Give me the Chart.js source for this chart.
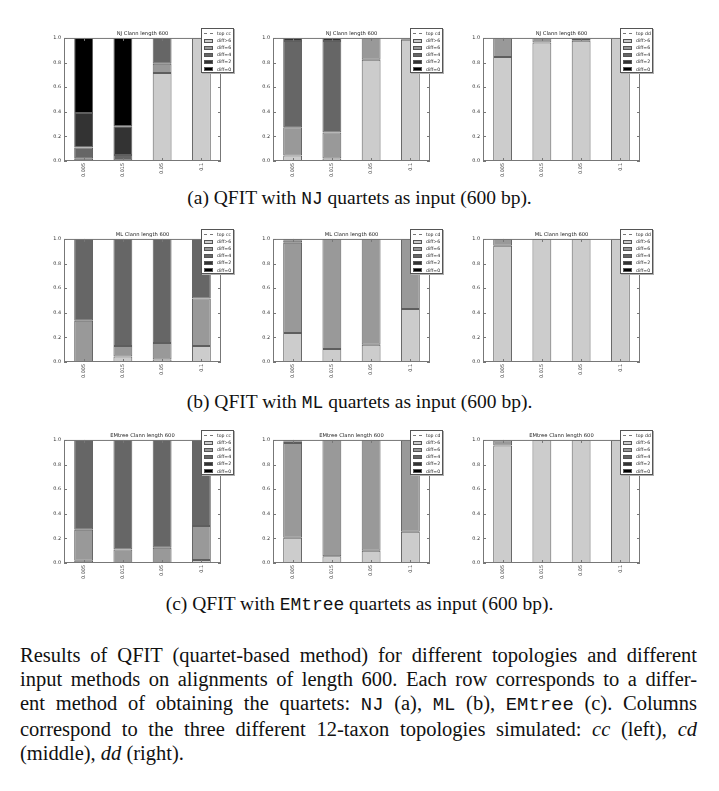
<!DOCTYPE html>
<html>
<head>
<meta charset="utf-8">
<script src="https://cdn.jsdelivr.net/npm/chart.js@4.4.1/dist/chart.umd.min.js"></script>
<style>
  body { margin: 0; background: #fff; width: 719px; height: 791px; position: relative; overflow: hidden; }
  canvas.panel { position: absolute; }
  .legend { position: absolute; width: 33px; height: 45px; box-sizing: border-box; border: 1px solid #555;
            background: #fff; box-shadow: 1px 1px 0 #b0b0b0; font: 4.6px "DejaVu Sans"; color: #222; padding: 1px 0 0 2px; }
  .legend .row { height: 7.1px; display: flex; align-items: center; white-space: nowrap; }
  .legend .sw { width: 9px; height: 4px; flex: none; box-sizing: border-box; border: 0.7px solid #555; margin-right: 4px; }
  .legend .dash { width: 9px; height: 0; flex: none; border-top: 0.8px dashed #777; margin-right: 4px; }
  .caption { position: absolute; left: 0; width: 719px; text-align: center; font: 19.5px/22px "Liberation Serif"; color: #111; }
  .tt { font-family: "Liberation Mono"; font-size: 0.92em; }
  .para { position: absolute; left: 20px; width: 677px; top: 643px; font: 20.5px/24px "Liberation Serif"; color: #111; }
  .para .l { display: block; text-align: justify; text-align-last: justify; white-space: nowrap; }
</style>
</head>
<body>
<div class="caption" style="top:187px">(a) QFIT with <span class="tt">NJ</span> quartets as input (600 bp).</div>
<div class="caption" style="top:391px">(b) QFIT with <span class="tt">ML</span> quartets as input (600 bp).</div>
<div class="caption" style="top:593px">(c) QFIT with <span class="tt">EMtree</span> quartets as input (600 bp).</div>
<div class="para">
  <span class="l">Results of QFIT (quartet-based method) for different topologies and different</span>
  <span class="l">input methods on alignments of length 600. Each row corresponds to a differ-</span>
  <span class="l">ent method of obtaining the quartets: <span class="tt">NJ</span> (a), <span class="tt">ML</span> (b), <span class="tt">EMtree</span> (c). Columns</span>
  <span class="l">correspond to the three different 12-taxon topologies simulated: <i>cc</i> (left), <i>cd</i></span>
  <span>(middle), <i>dd</i> (right).</span>
</div>
<script>
// x categories (substitution rate) and stacked series names
const rates = ['0.005', '0.015', '0.05', '0.1'];
const diffLabels = ['diff>6', 'diff=6', 'diff=4', 'diff=2', 'diff=0'];
const yTicks = [0, 0.2, 0.4, 0.6, 0.8, 1.0];

// one array per series: diff>6, diff=6, diff=4, diff=2, diff=0
const njCc = [
  [0.005, 0.0, 0.715, 1.0],
  [0.017, 0.004, 0.075, 0],
  [0.087, 0.045, 0.21, 0],
  [0.281, 0.234, 0, 0],
  [0.61, 0.717, 0, 0]
];
const njCd = [
  [0.045, 0.02, 0.823, 0.985],
  [0.229, 0.211, 0.177, 0.01],
  [0.702, 0.745, 0, 0.005],
  [0.024, 0.024, 0, 0],
  [0, 0, 0, 0]
];
const njDd = [
  [0.845, 0.962, 0.978, 1.0],
  [0.155, 0.038, 0.015, 0],
  [0, 0, 0.007, 0],
  [0, 0, 0, 0],
  [0, 0, 0, 0]
];
const mlCc = [
  [0, 0.045, 0.02, 0.13],
  [0.335, 0.085, 0.135, 0.385],
  [0.665, 0.87, 0.845, 0.485],
  [0, 0, 0, 0],
  [0, 0, 0, 0]
];
const mlCd = [
  [0.235, 0.105, 0.14, 0.43],
  [0.735, 0.895, 0.86, 0.57],
  [0.02, 0, 0, 0],
  [0.01, 0, 0, 0],
  [0, 0, 0, 0]
];
const mlDd = [
  [0.945, 1.0, 1.0, 1.0],
  [0.055, 0, 0, 0],
  [0, 0, 0, 0],
  [0, 0, 0, 0],
  [0, 0, 0, 0]
];
const emCc = [
  [0.019, 0, 0, 0.025],
  [0.251, 0.109, 0.123, 0.275],
  [0.73, 0.891, 0.877, 0.7],
  [0, 0, 0, 0],
  [0, 0, 0, 0]
];
const emCd = [
  [0.205, 0.055, 0.1, 0.253],
  [0.77, 0.945, 0.9, 0.747],
  [0.015, 0, 0, 0],
  [0.01, 0, 0, 0],
  [0, 0, 0, 0]
];
const emDd = [
  [0.955, 1.0, 1.0, 1.0],
  [0.04, 0, 0, 0],
  [0.005, 0, 0, 0],
  [0, 0, 0, 0],
  [0, 0, 0, 0]
];

// styling
const fills = ['#cccccc', '#999999', '#666666', '#333333', '#000000'];
const edge = '#5e5e5e';
const font = 'DejaVu Sans';

// panel layout (plot area corners)
const colLeft = [64, 273, 483];
const rowTop = [38, 239, 440];
const plotW = 157, plotH = 123, yAxisW = 24, titleH = 11, xAxisH = 26, padR = 4;

// matplotlib-ish frame with inward ticks
const framePlugin = {
  id: 'frame',
  afterDatasetsDraw(chart) {
    const { ctx, chartArea: a, scales } = chart;
    ctx.save();
    ctx.strokeStyle = '#777';
    ctx.lineWidth = 1;
    ctx.strokeRect(a.left + 0.5, a.top + 0.5, a.width - 1, a.height - 1);
    ctx.beginPath();
    scales.y.ticks.forEach((t, i) => {
      const y = Math.round(scales.y.getPixelForTick(i)) + 0.5;
      ctx.moveTo(a.left, y); ctx.lineTo(a.left + 3, y);
      ctx.moveTo(a.right - 3, y); ctx.lineTo(a.right, y);
    });
    scales.x.ticks.forEach((t, i) => {
      const x = Math.round(scales.x.getPixelForTick(i)) + 0.5;
      ctx.moveTo(x, a.bottom); ctx.lineTo(x, a.bottom - 3);
      ctx.moveTo(x, a.top); ctx.lineTo(x, a.top + 3);
    });
    ctx.stroke();
    ctx.restore();
  }
};

function makeLegend(left, top, topo) {
  const box = document.createElement('div');
  box.className = 'legend';
  box.style.left = left + 'px';
  box.style.top = top + 'px';
  let html = '<div class="row"><span class="dash"></span>top ' + topo + '</div>';
  diffLabels.forEach((lab, i) => {
    html += '<div class="row"><span class="sw" style="background:' + fills[i] + '"></span>' + lab + '</div>';
  });
  box.innerHTML = html;
  document.body.appendChild(box);
}

function makePanel(col, row, method, topo, series) {
  const canvas = document.createElement('canvas');
  canvas.className = 'panel';
  canvas.width = yAxisW + plotW + padR;
  canvas.height = titleH + plotH + xAxisH;
  canvas.style.left = (colLeft[col] - yAxisW) + 'px';
  canvas.style.top = (rowTop[row] - titleH) + 'px';
  document.body.appendChild(canvas);

  new Chart(canvas, {
    type: 'bar',
    data: {
      labels: rates,
      datasets: series.map((vals, i) => ({
        label: diffLabels[i],
        data: vals,
        backgroundColor: fills[i],
        borderColor: edge,
        borderWidth: 1,
        borderSkipped: false,
        barPercentage: 0.48,
        categoryPercentage: 1
      }))
    },
    options: {
      responsive: false,
      animation: false,
      layout: { padding: { right: padR } },
      plugins: {
        legend: { display: false },
        tooltip: { enabled: false },
        title: {
          display: true,
          text: method + ' Clann length 600',
          fullSize: false,
          color: '#222',
          font: { family: font, size: 5.2, weight: 'normal' },
          padding: { top: 3.5, bottom: 1.2 }
        }
      },
      scales: {
        x: {
          stacked: true,
          grid: { display: false, drawTicks: false },
          border: { display: false },
          afterFit: s => { s.height = xAxisH; },
          ticks: {
            autoSkip: false, minRotation: 90, maxRotation: 90, padding: 2,
            color: '#333', font: { family: font, size: 4.9 }
          }
        },
        y: {
          stacked: true,
          min: 0, max: 1,
          grid: { display: false, drawTicks: false },
          border: { display: false },
          afterFit: s => { s.width = yAxisW; },
          afterBuildTicks: s => { s.ticks = yTicks.map(v => ({ value: v })); },
          ticks: {
            padding: 3, color: '#333',
            font: { family: font, size: 4.9 },
            callback: v => Number(v).toFixed(1)
          }
        }
      }
    },
    plugins: [framePlugin]
  });

  makeLegend(colLeft[col] + plotW - 20, rowTop[row] - 10, topo);
}

makePanel(0, 0, 'NJ', 'cc', njCc);
makePanel(1, 0, 'NJ', 'cd', njCd);
makePanel(2, 0, 'NJ', 'dd', njDd);
makePanel(0, 1, 'ML', 'cc', mlCc);
makePanel(1, 1, 'ML', 'cd', mlCd);
makePanel(2, 1, 'ML', 'dd', mlDd);
makePanel(0, 2, 'EMtree', 'cc', emCc);
makePanel(1, 2, 'EMtree', 'cd', emCd);
makePanel(2, 2, 'EMtree', 'dd', emDd);
</script>
</body>
</html>
